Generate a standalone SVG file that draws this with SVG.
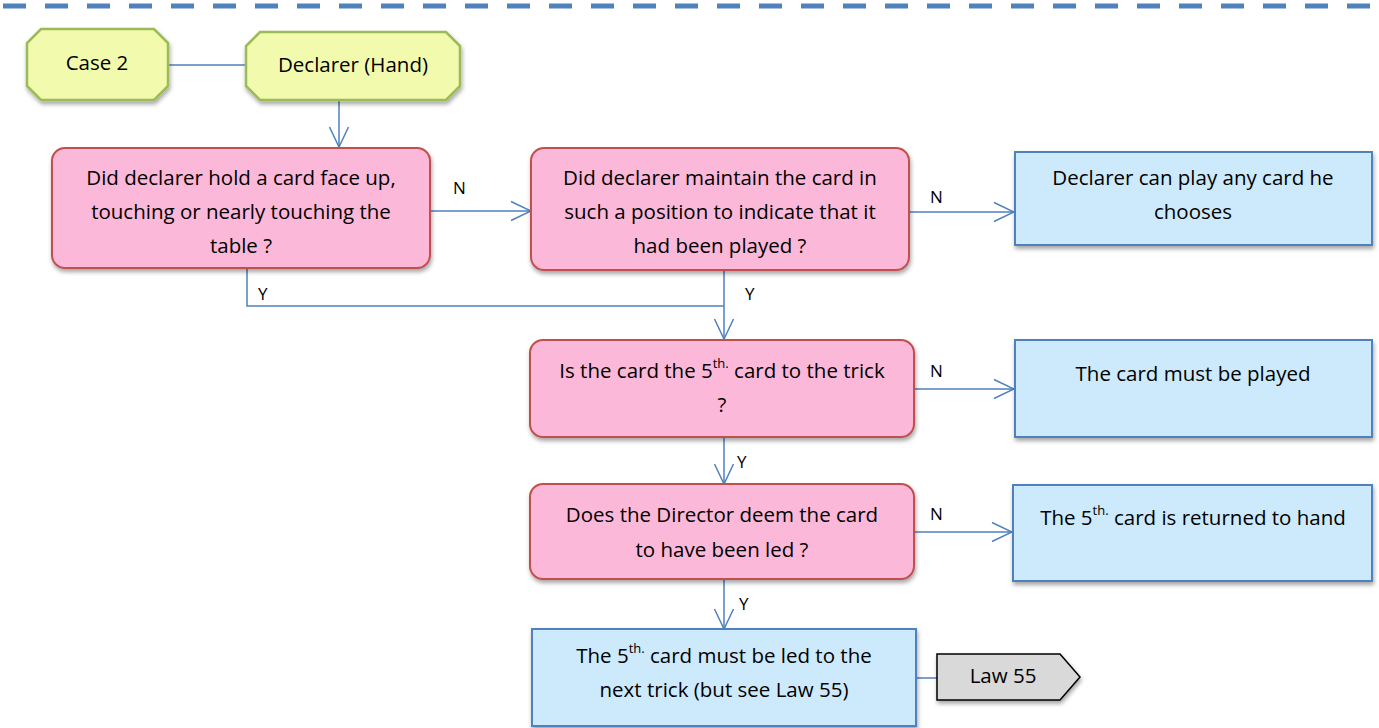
<svg xmlns="http://www.w3.org/2000/svg" width="1379" height="728" viewBox="0 0 1379 728">
<style>
text{font-family:"Open Sans","Liberation Sans",Arial,sans-serif;font-size:20.5px;fill:#000;text-anchor:middle}
.lbl{font-size:17px;text-anchor:start}
.sup{font-size:13px}
.pink{fill:#FCB8D8;stroke:#C0504D;stroke-width:2}
.blue{fill:#CDEAFC;stroke:#4F81BD;stroke-width:2}
.yel{fill:#F2FAAE;stroke:#9BBB59;stroke-width:2.5}
.gray{fill:#D9D9D9;stroke:#000;stroke-width:1.5}
.con{fill:none;stroke:#4F81BD;stroke-width:1.5}
</style>
<defs>
<filter id="sh" x="-10%" y="-10%" width="130%" height="140%">
<feDropShadow dx="1" dy="3" stdDeviation="2" flood-color="#000" flood-opacity="0.35"/>
</filter>
<marker id="ar" viewBox="0 0 22 22" refX="21" refY="11" markerWidth="22" markerHeight="22" markerUnits="userSpaceOnUse" orient="auto">
<path d="M1,1.5 L21,11 L1,20.5" fill="none" stroke="#4F81BD" stroke-width="1.5"/>
</marker>
</defs>
<rect width="1379" height="728" fill="#fff"/>
<line x1="3" y1="6" x2="1379" y2="6" stroke="#4F81BD" stroke-width="5" stroke-dasharray="23 19"/>

<g id="connectors">
<line class="con" x1="168" y1="65" x2="246" y2="65"/>
<line class="con" x1="339" y1="101" x2="339" y2="147" marker-end="url(#ar)"/>
<line class="con" x1="430" y1="211" x2="531" y2="211" marker-end="url(#ar)"/>
<line class="con" x1="909" y1="212" x2="1014" y2="212" marker-end="url(#ar)"/>
<polyline class="con" points="247,269 247,306 724,306"/>
<line class="con" x1="724" y1="270" x2="724" y2="339" marker-end="url(#ar)"/>
<line class="con" x1="914" y1="389" x2="1014" y2="389" marker-end="url(#ar)"/>
<line class="con" x1="724" y1="437" x2="724" y2="484" marker-end="url(#ar)"/>
<line class="con" x1="914" y1="532" x2="1012" y2="532" marker-end="url(#ar)"/>
<line class="con" x1="724" y1="579" x2="724" y2="629" marker-end="url(#ar)"/>
<line class="con" x1="916" y1="678" x2="937" y2="678"/>
<text class="lbl" x="453" y="194">N</text>
<text class="lbl" x="930" y="203">N</text>
<text class="lbl" x="258" y="300">Y</text>
<text class="lbl" x="745" y="300">Y</text>
<text class="lbl" x="930" y="377">N</text>
<text class="lbl" x="737" y="468">Y</text>
<text class="lbl" x="930" y="520">N</text>
<text class="lbl" x="739" y="610">Y</text>
</g>

<g id="case2">
<path class="yel" filter="url(#sh)" d="M41,29 L154,29 L168,43 L168,86 L154,100 L41,100 L27,86 L27,43 Z"/>
<text x="97" y="70">Case 2</text>
</g>
<g id="declarer-hand">
<path class="yel" filter="url(#sh)" d="M260,32 L446,32 L460,46 L460,86 L446,100 L260,100 L246,86 L246,46 Z"/>
<text x="353" y="72">Declarer (Hand)</text>
</g>
<g id="q1">
<rect class="pink" filter="url(#sh)" x="52" y="148" width="378" height="120" rx="13"/>
<text x="241" y="185">Did declarer hold a card face up,</text>
<text x="241" y="219">touching or nearly touching the</text>
<text x="241" y="253">table ?</text>
</g>
<g id="q2">
<rect class="pink" filter="url(#sh)" x="531" y="148" width="378" height="122" rx="13"/>
<text x="720" y="185">Did declarer maintain the card in</text>
<text x="720" y="219">such a position to indicate that it</text>
<text x="720" y="253">had been played ?</text>
</g>
<g id="r1">
<rect class="blue" filter="url(#sh)" x="1015" y="152" width="357" height="93"/>
<text x="1193" y="185">Declarer can play any card he</text>
<text x="1193" y="219">chooses</text>
</g>
<g id="q3">
<rect class="pink" filter="url(#sh)" x="530" y="340" width="384" height="97" rx="13"/>
<text x="722" y="378">Is the card the 5<tspan class="sup" dy="-10">th.</tspan><tspan dy="10"> card to the trick</tspan></text>
<text x="722" y="412">?</text>
</g>
<g id="r2">
<rect class="blue" filter="url(#sh)" x="1015" y="340" width="357" height="97"/>
<text x="1193" y="381">The card must be played</text>
</g>
<g id="q4">
<rect class="pink" filter="url(#sh)" x="530" y="484" width="384" height="95" rx="13"/>
<text x="722" y="522">Does the Director deem the card</text>
<text x="722" y="557">to have been led ?</text>
</g>
<g id="r3">
<rect class="blue" filter="url(#sh)" x="1013" y="485" width="359" height="96"/>
<text x="1193" y="525">The 5<tspan class="sup" dy="-10">th.</tspan><tspan dy="10"> card is returned to hand</tspan></text>
</g>
<g id="r4">
<rect class="blue" filter="url(#sh)" x="532" y="629" width="384" height="97"/>
<text x="724" y="663">The 5<tspan class="sup" dy="-10">th.</tspan><tspan dy="10">  card must be led to the</tspan></text>
<text x="724" y="697">next trick (but see Law 55)</text>
</g>
<g id="law55">
<path class="gray" filter="url(#sh)" d="M937,654 L1060,654 L1080,677 L1060,700 L937,700 Z"/>
<text x="1003" y="683">Law 55</text>
</g>
</svg>
